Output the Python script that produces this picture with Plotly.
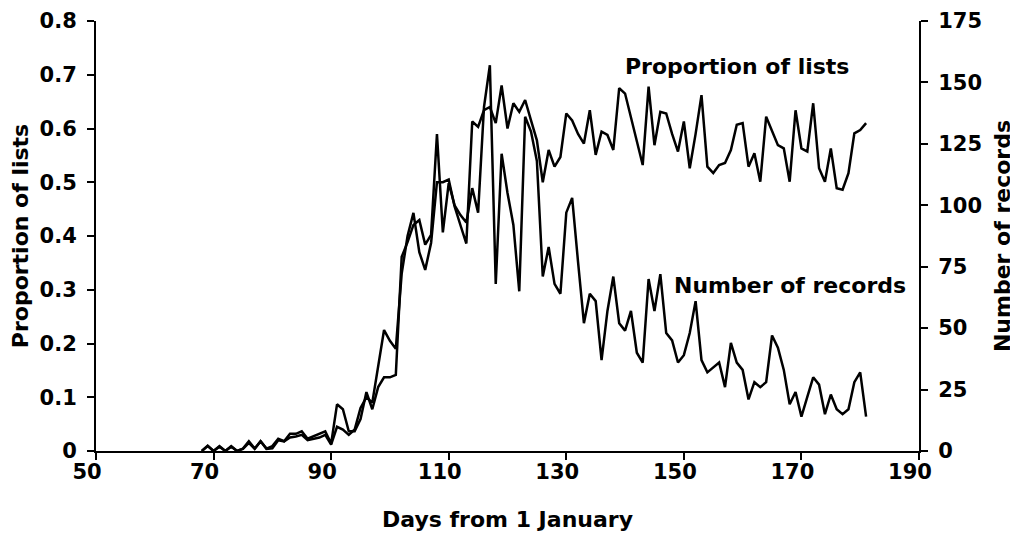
import plotly.graph_objects as go

days = list(range(68, 182))

# proportion of lists (left axis)
proportion = [
    0, 0.01, 0, 0.008, 0, 0.008, 0, 0.004, 0.015, 0.004,           # 68-77
    0.018, 0.004, 0.005, 0.02, 0.018, 0.025, 0.027, 0.03, 0.02, 0.022,  # 78-87
    0.025, 0.03, 0.012, 0.045, 0.04, 0.03, 0.04, 0.08, 0.10, 0.09,   # 88-97
    0.16, 0.225, 0.205, 0.19, 0.33, 0.40, 0.443, 0.37, 0.337, 0.387,  # 98-107
    0.50, 0.50, 0.505, 0.455, 0.42, 0.386, 0.613, 0.603, 0.634, 0.64,  # 108-117
    0.61, 0.68, 0.60, 0.647, 0.631, 0.653, 0.615, 0.578, 0.50, 0.56,  # 118-127
    0.529, 0.547, 0.628, 0.615, 0.59, 0.572, 0.634, 0.551, 0.594, 0.588,  # 128-137
    0.56, 0.675, 0.665, 0.62, 0.575, 0.532, 0.678, 0.569, 0.631, 0.628,  # 138-147
    0.59, 0.557, 0.613, 0.526, 0.59, 0.662, 0.529, 0.517, 0.532, 0.536,  # 148-157
    0.56, 0.607, 0.61, 0.529, 0.554, 0.501, 0.622, 0.595, 0.569, 0.563,  # 158-167
    0.501, 0.634, 0.563, 0.557, 0.647, 0.526, 0.501, 0.563, 0.489, 0.486,  # 168-177
    0.517, 0.591, 0.597, 0.61,                                       # 178-181
]

# number of records (right axis)
records = [
    0, 2, 0, 2, 0, 2, 0, 1, 4, 1,            # 68-77
    4, 1, 2, 5, 4, 7, 7, 8, 5, 6,            # 78-87
    7, 8, 3, 19, 17, 8, 8, 13, 24, 17,       # 88-97
    26, 30, 30, 31, 79, 85, 92, 94, 84, 88,  # 98-107
    129, 89, 109, 100, 96, 93, 107, 97, 140, 157,  # 108-117
    68, 121, 105, 92, 65, 136, 130, 118, 71, 83,   # 118-127
    68, 64, 97, 103, 77, 52, 64, 61, 37, 57,       # 128-137
    71, 52, 49, 57, 40, 36, 70, 57, 72, 48,        # 138-147
    45, 36, 39, 48, 61, 37, 32, 34, 36, 26,        # 148-157
    44, 36, 33, 21, 28, 26, 28, 47, 42, 33,        # 158-167
    19, 24, 14, 22, 30, 27, 15, 23, 17, 15,        # 168-177
    17, 28, 32, 14,                                # 178-181
]

tick_font = dict(family="DejaVu Sans", size=21, color="black", weight="bold")
text_font = dict(family="DejaVu Sans", size=22, color="black", weight="bold")

fig = go.Figure()
fig.add_trace(go.Scatter(x=days, y=proportion, mode="lines", name="Proportion of lists",
                         line=dict(color="black", width=2.5)))
fig.add_trace(go.Scatter(x=days, y=records, mode="lines", name="Number of records",
                         yaxis="y2", line=dict(color="black", width=2.5)))

axis_style = dict(showline=True, linecolor="black", linewidth=2, ticks="outside",
                  ticklen=7, tickwidth=2, tickcolor="black", showgrid=False,
                  zeroline=False, tickfont=tick_font, automargin=False)

# page body adds an 8px offset, so the figure is sized to fit inside the window
fig.update_layout(
    width=1010, height=528,
    margin=dict(l=88, r=99, t=13, b=85),
    plot_bgcolor="white", paper_bgcolor="white",
    showlegend=False,
    xaxis=dict(range=[50, 190], dtick=20, tick0=50,
               ticklabelshift=-9, ticklabelstandoff=-6,
               title=dict(text="Days from 1 January", font=text_font, standoff=28),
               **axis_style),
    yaxis=dict(range=[0, 0.8], dtick=0.1, ticklabelstandoff=6,
               title=dict(text="Proportion of lists", font=text_font, standoff=6),
               **axis_style),
    yaxis2=dict(range=[0, 175], dtick=25, overlaying="y", side="right",
                ticklabelstandoff=6,
                title=dict(text="Number of records", font=text_font, standoff=14),
                **axis_style),
    annotations=[
        dict(x=159.1, y=0.716, xref="x", yref="y", text="Proportion of lists",
             showarrow=False, font=text_font),
        dict(x=168.0, y=0.307, xref="x", yref="y", text="Number of records",
             showarrow=False, font=text_font),
    ],
)

fig.write_html("out.html")
